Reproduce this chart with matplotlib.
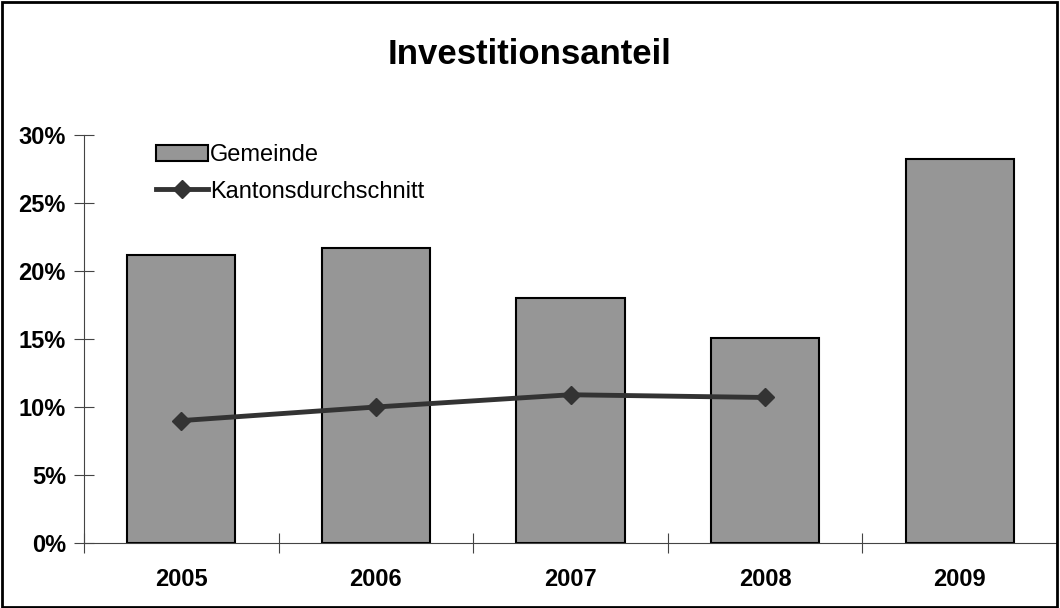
import matplotlib.pyplot as plt
import numpy as np
from matplotlib.ticker import FixedLocator, PercentFormatter
from matplotlib.patches import Rectangle

plt.rcParams['font.family'] = ['Liberation Sans', 'DejaVu Sans']

years = ['2005', '2006', '2007', '2008', '2009']
gemeinde = [0.212, 0.217, 0.180, 0.151, 0.282]
kanton_years = ['2005', '2006', '2007', '2008']
kanton = [0.090, 0.100, 0.109, 0.107]

fig = plt.figure(figsize=(10.6, 6.08), dpi=100)
ax = fig.add_axes([84/1060, 65/608, 973/1060, 408/608])

x = np.arange(len(years))
bars = ax.bar(x, gemeinde, width=0.555, color='#969696', edgecolor='black', linewidth=1.5,
              label='Gemeinde', zorder=2)
xk = [years.index(y) for y in kanton_years]
line, = ax.plot(xk, kanton, color='#333333', linewidth=3.5, marker='D', markersize=9,
                label='Kantonsdurchschnitt', zorder=3)

ax.set_xlim(-0.5, len(years) - 0.5)
ax.set_ylim(0, 0.30)
ax.yaxis.set_major_locator(FixedLocator(np.arange(0, 0.31, 0.05)))
ax.yaxis.set_major_formatter(PercentFormatter(1.0, decimals=0))
ax.set_xticks(x)
ax.set_xticklabels(years)
ax.xaxis.set_minor_locator(FixedLocator(np.arange(-0.5, len(years), 1.0)))
ax.tick_params(axis='x', which='major', length=0, pad=18)
ax.tick_params(axis='x', which='minor', direction='inout', length=14, width=0.8, color='#444444')
ax.tick_params(axis='y', direction='inout', length=14, width=0.8, color='#444444', pad=6)
for lab in ax.get_xticklabels() + ax.get_yticklabels():
    lab.set_fontsize(17)
    lab.set_fontweight('bold')

for s in ['top', 'right']:
    ax.spines[s].set_visible(False)
for s in ['left', 'bottom']:
    ax.spines[s].set_color('#444444')
    ax.spines[s].set_linewidth(0.8)

leg = ax.legend([bars, line], ['Gemeinde', 'Kantonsdurchschnitt'],
                loc='upper left', bbox_to_anchor=(0.064, 1.0), frameon=False,
                fontsize=17, handlelength=2.2, handletextpad=0.1, labelspacing=0.6,
                borderaxespad=0)

fig.text(0.5, 1 - 55/608, 'Investitionsanteil', ha='center', va='center',
         fontsize=25, fontweight='bold')

fig.patches.append(Rectangle((0.002, 0.002), 0.995, 0.995, transform=fig.transFigure,
                             fill=False, edgecolor='black', linewidth=2))

plt.savefig('out.png', dpi=100)
